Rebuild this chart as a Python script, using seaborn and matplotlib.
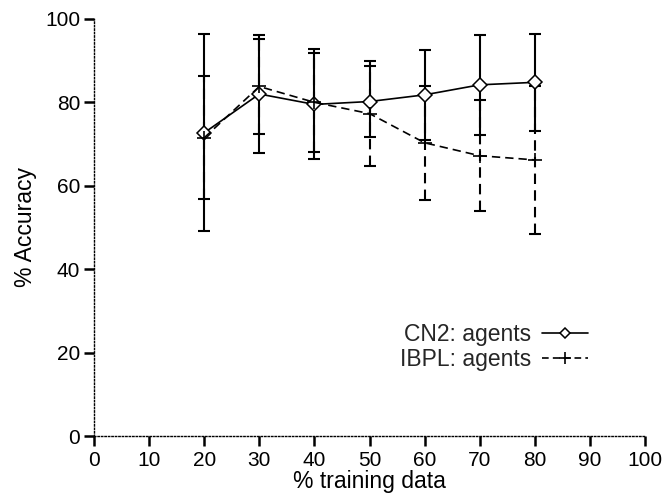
import numpy as np
import pandas as pd
import matplotlib
matplotlib.use("Agg")
import matplotlib.pyplot as plt
import seaborn as sns
from matplotlib.lines import Line2D

sns.set_theme(style="ticks")
plt.rcParams["font.family"] = ["Liberation Sans", "DejaVu Sans"]

# values
pct = [20, 30, 40, 50, 60, 70, 80]
cn2_acc = [72.7, 82.0, 79.5, 80.2, 81.8, 84.2, 84.8]
cn2_err = [23.6, 14.1, 13.2, 8.6, 10.8, 12.0, 11.6]
ibpl_acc = [71.5, 83.8, 80.0, 77.3, 70.3, 67.2, 66.2]
ibpl_err = [14.7, 11.4, 11.9, 12.6, 13.7, 13.3, 17.8]

df = pd.DataFrame({
    "pct": pct * 2,
    "acc": cn2_acc + ibpl_acc,
    "method": ["CN2: agents"] * len(pct) + ["IBPL: agents"] * len(pct),
})

fig = plt.figure(figsize=(6.65, 4.93), dpi=100)
ax = fig.add_axes([0.1414, 0.1156, 0.8286, 0.846])

# error bars
eb1 = ax.errorbar(pct, cn2_acc, yerr=cn2_err, fmt="none", ecolor="black",
                  elinewidth=1.5, capsize=4.3, capthick=1.5, zorder=2)
eb2 = ax.errorbar(pct, ibpl_acc, yerr=ibpl_err, fmt="none", ecolor="black",
                  elinewidth=1.5, capsize=4.3, capthick=1.5, zorder=2)
eb2[2][0].set_linestyle((0, (5, 3)))

sns.lineplot(data=df, x="pct", y="acc", style="method", color="black",
             markers={"CN2: agents": "D", "IBPL: agents": "P"},
             dashes={"CN2: agents": "", "IBPL: agents": (5, 3)},
             linewidth=1.2, legend=False, ax=ax, zorder=3)

# restyle markers: open diamond and thin plus
for ln in ax.get_lines():
    if ln.get_marker() == "D":
        ln.set_markerfacecolor("white")
        ln.set_markeredgecolor("black")
        ln.set_markersize(7)
        ln.set_markeredgewidth(1.1)
    elif ln.get_marker() == "P":
        ln.set_marker("+")
        ln.set_markersize(10)
        ln.set_markeredgewidth(1.2)
        ln.set_markeredgecolor("black")

ax.set_xlim(0, 100)
ax.set_ylim(0, 100)
ax.set_xticks(range(0, 101, 10))
ax.set_yticks(range(0, 101, 20))
ax.tick_params(axis="both", direction="out", length=7, width=1.8,
               labelsize=15, color="black", labelcolor="black")
ax.tick_params(axis="x", pad=4)
ax.tick_params(axis="y", pad=3)

for side in ["top", "right"]:
    ax.spines[side].set_visible(False)
for side in ["left", "bottom"]:
    ax.spines[side].set_linestyle((0, (1, 1.5)))
    ax.spines[side].set_linewidth(1.0)
    ax.spines[side].set_color("black")

ax.set_xlabel("% training data", fontsize=16.5, labelpad=0, color="black")
ax.set_ylabel("% Accuracy", fontsize=16.5, labelpad=6, color="black")

handles = [
    Line2D([], [], color="black", lw=1.2, marker="D", markersize=5.5,
           markerfacecolor="white", markeredgewidth=1.1),
    Line2D([], [], color="black", lw=1.2, ls=(0, (4, 2.5)), marker="+",
           markersize=9, markeredgewidth=1.2),
]
ax.legend(handles, ["CN2: agents", "IBPL: agents"], loc="upper left",
          bbox_to_anchor=(0.538, 0.293), frameon=False, markerfirst=False,
          fontsize=16.5, handlelength=2.0, handletextpad=0.5,
          labelspacing=0.1, numpoints=1, borderaxespad=0)

fig.savefig("out.png", dpi=100)
